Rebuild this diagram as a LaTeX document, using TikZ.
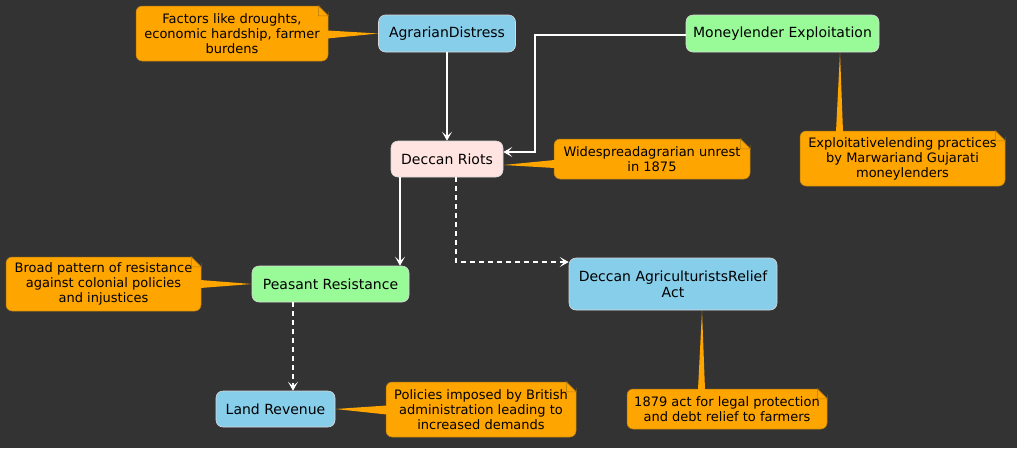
\documentclass[tikz,border=0pt]{standalone}
\usepackage{fontspec}
\setmainfont{DejaVu Sans}
\usetikzlibrary{arrows.meta}
\definecolor{bgc}{HTML}{333333}
\definecolor{skyb}{HTML}{87CEEB}
\definecolor{palg}{HTML}{98FB98}
\definecolor{misty}{HTML}{FFE4E1}
\definecolor{noteor}{HTML}{FFA500}
\definecolor{notebd}{HTML}{B07A10}
\definecolor{boxbd}{HTML}{D8D8D8}
\tikzset{
  box/.style={draw=boxbd, line width=0.6pt, rounded corners=7pt, inner sep=0pt,
    align=center, text=black, font=\fontsize{14}{16}\selectfont},
  notebox/.style={fill=noteor, draw=notebd, line width=0.5pt, rounded corners=6pt,
    inner sep=0pt, align=center, text=black, font=\fontsize{13}{15}\selectfont},
  notefold/.style={fill=noteor, draw=notebd, line width=0.5pt},
  pointer/.style={fill=noteor, draw=none},
  arr/.style={draw=white, line width=1.4pt, -{Stealth[length=9pt,width=10pt,inset=4.5pt]}},
  dashedarr/.style={arr, dash pattern=on 5pt off 4pt}
}
\newcommand{\foldcorner}[1]{%
  \fill[bgc] ([xshift=-10pt]#1.north east) -- ([xshift=0.6pt,yshift=0.6pt]#1.north east) -- ([yshift=-10pt]#1.north east) -- cycle;
  \draw[notefold] ([xshift=-10pt]#1.north east) -- ([yshift=-10pt]#1.north east) -- ([xshift=-10pt,yshift=-10pt]#1.north east) -- cycle;
}
\begin{document}
\begin{tikzpicture}[x=1pt,y=-1pt]
\fill[bgc] (0,0) rectangle (1017,448);
\useasboundingbox (0,0) rectangle (1017,448);

% main nodes
\node[box, fill=skyb, minimum width=137pt, minimum height=37pt] (ad) at (447,33.5) {AgrarianDistress};
\node[box, fill=palg, minimum width=193pt, minimum height=37pt] (me) at (782.5,33.5) {Moneylender Exploitation};
\node[box, fill=misty, minimum width=112pt, minimum height=36pt] (dr) at (447,159) {Deccan Riots};
\node[box, fill=palg, minimum width=157pt, minimum height=36pt] (pr) at (330.5,284) {Peasant Resistance};
\node[box, fill=skyb, minimum width=119pt, minimum height=36pt] (lr) at (275.5,409) {Land Revenue};
\node[box, fill=skyb, minimum width=208pt, minimum height=52pt] (act) at (673,284) {Deccan AgriculturistsRelief\\Act};

% notes
\node[notebox, minimum width=192pt, minimum height=55pt] (n1) at (232,33.5) {Factors like droughts,\\economic hardship, farmer\\burdens};
\node[notebox, minimum width=196pt, minimum height=40pt] (n2) at (652,159) {Widespreadagrarian unrest\\in 1875};
\node[notebox, minimum width=195pt, minimum height=54pt] (n3) at (103.5,284) {Broad pattern of resistance\\against colonial policies\\and injustices};
\node[notebox, minimum width=190pt, minimum height=55pt] (n4) at (481,409.5) {Policies imposed by British\\administration leading to\\increased demands};
\node[notebox, minimum width=200pt, minimum height=40pt] (n5) at (727,409) {1879 act for legal protection\\and debt relief to farmers};
\node[notebox, minimum width=205pt, minimum height=55pt] (n6) at (902.5,158.5) {Exploitativelending practices\\by Marwariand Gujarati\\moneylenders};
\foldcorner{n1}\foldcorner{n2}\foldcorner{n3}\foldcorner{n4}\foldcorner{n5}\foldcorner{n6}

% note pointers
\fill[pointer] ([xshift=-1pt,yshift=3pt]n1.east) -- ([xshift=-1pt,yshift=-5pt]n1.east) -- (ad.west);
\fill[pointer] ([xshift=1pt,yshift=-1pt]n2.west) -- ([xshift=1pt,yshift=-9pt]n2.west) -- ([yshift=-6pt]dr.east);
\fill[pointer] ([xshift=-1pt,yshift=4pt]n3.east) -- ([xshift=-1pt,yshift=-4pt]n3.east) -- (pr.west);
\fill[pointer] ([xshift=1pt,yshift=4pt]n4.west) -- ([xshift=1pt,yshift=-5pt]n4.west) -- (lr.west -| lr.east);
\fill[pointer] ([xshift=-29pt,yshift=-1pt]n5.north) -- ([xshift=-22pt,yshift=-1pt]n5.north) -- ([xshift=29pt]act.south);
\fill[pointer] ([xshift=-66.5pt,yshift=-1pt]n6.north) -- ([xshift=-59.5pt,yshift=-1pt]n6.north) -- ([xshift=57.5pt]me.south);

% connectors
\coordinate (k) at (535,152);
\draw[arr] (ad) -- (dr);
\draw[arr] ([yshift=-1.5pt]me.west) -| (k) -- (dr.east |- k);
\draw[arr] ([xshift=-47pt]dr.south) -- ([xshift=-47pt]dr.south |- pr.north);
\draw[dashedarr] ([xshift=9pt]dr.south) |- ([yshift=22pt]act.west);
\draw[dashedarr] ([xshift=-37.5pt]pr.south) -- ([xshift=-37.5pt]pr.south |- lr.north);
\end{tikzpicture}
\end{document}
